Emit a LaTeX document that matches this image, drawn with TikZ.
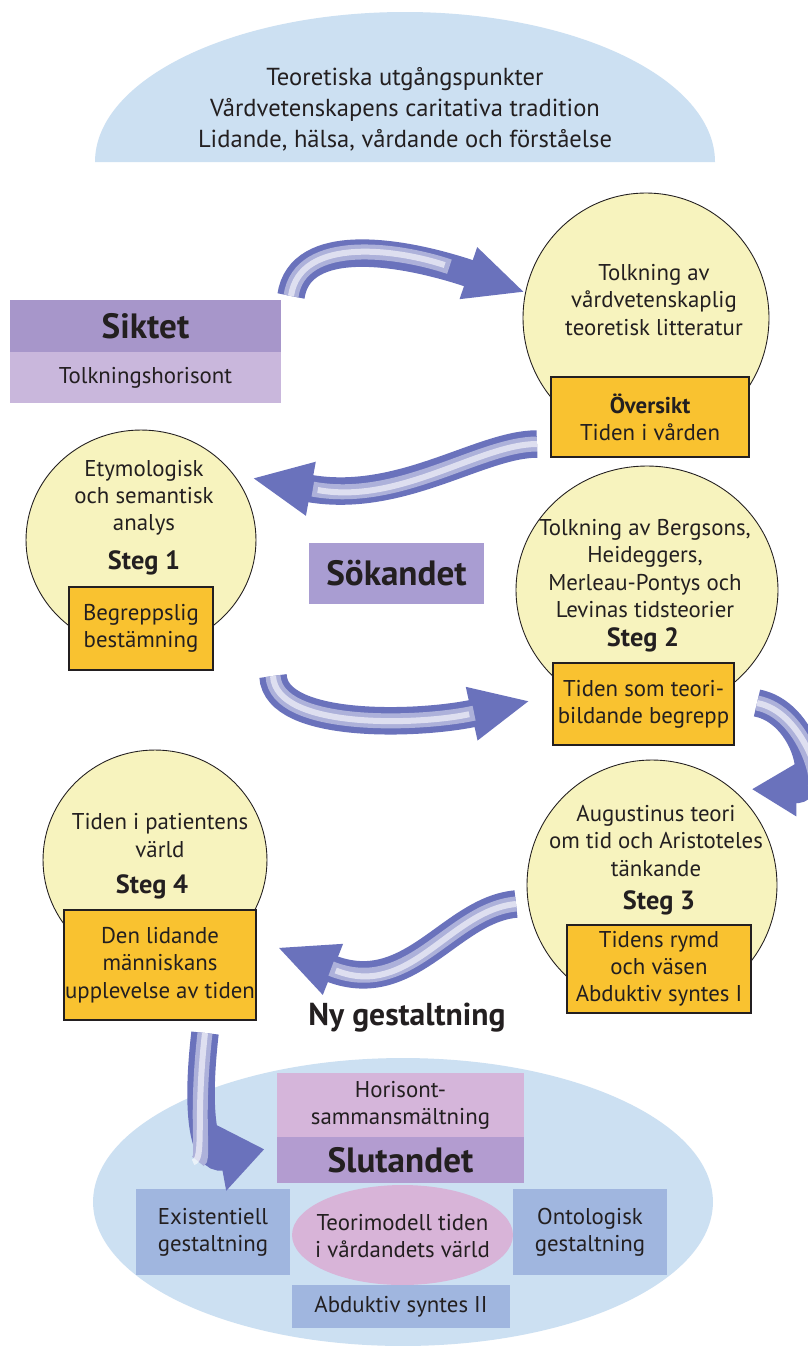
\documentclass[tikz,border=0pt]{standalone}
\usepackage{fontspec}
\setmainfont{PT Sans}
\usepackage{tikz}
\usetikzlibrary{shapes.geometric,arrows.meta}
\definecolor{skyblue}{HTML}{CCE0F2}
\definecolor{paleyellow}{HTML}{F7F3BE}
\definecolor{amber}{HTML}{F9C230}
\definecolor{darklilac}{HTML}{A796CA}
\definecolor{lightlilac}{HTML}{C9B7DC}
\definecolor{searchlilac}{HTML}{A99DD2}
\definecolor{mauve}{HTML}{D5B5DA}
\definecolor{midlilac}{HTML}{B39CD0}
\definecolor{greyblue}{HTML}{A0B6DF}
\definecolor{pinkmauve}{HTML}{D8B4D8}
\definecolor{ribbon}{HTML}{6A72BC}
\definecolor{ink}{HTML}{231F20}
\newcommand{\hd}[1]{{\fontsize{20}{22}\selectfont\bfseries #1}}
\newcommand{\stg}[1]{{\fontsize{15}{17}\selectfont\bfseries #1}}

\begin{document}
\begin{tikzpicture}[x=0.02cm, y=-0.02cm, >={Triangle[length=1.2cm,width=1.0cm]},
    every node/.style={text=ink, font=\fontsize{13}{15.5}\selectfont, align=center, inner sep=0pt},
    bubble/.style={ellipse, draw=ink, line width=0.5pt, fill=paleyellow},
    result/.style={rectangle, draw=ink, line width=0.9pt, fill=amber},
    band/.style={rectangle, minimum width=5.42cm},
    flow/.style={->, draw=ribbon, line width=0.55cm,
        postaction={draw=ribbon!55!white, -, line width=0.3cm, shorten >=1.6cm},
        postaction={draw=white, -, opacity=0.6, line width=0.12cm, shorten >=1.7cm}}]
    \path[use as bounding box, fill=white] (0,0) rectangle (808,1346);

    % Theoretical starting points
    \fill[skyblue] (95,162) arc[start angle=180, end angle=360, x radius=310, y radius=150] -- cycle;
    \node[font=\fontsize{14}{17.6}\selectfont] (theory) at (405,109) {Teoretiska utgångspunkter\\Vårdvetenskapens caritativa tradition\\Lidande, hälsa, vårdande och förståelse};

    % Siktet
    \node[band, minimum height=1.04cm, fill=darklilac] (siktet) at (145.5,326) {\hd{Siktet}};
    \node[band, minimum height=1.02cm, fill=lightlilac] (horizon) at (145.5,377.5) {Tolkningshorisont};

    % Overview circle
    \node[bubble, minimum width=4.92cm, minimum height=5cm] (c0) at (646,318) {};
    \node (c0t) at (654,300) {Tolkning av\\vårdvetenskaplig\\teoretisk litteratur};
    \node[result, minimum width=3.96cm, minimum height=1.6cm] (ov) at (650,417) {\textbf{Översikt}\\Tiden i vården};

    % Steg 1
    \node[bubble, minimum width=4.6cm, minimum height=4.4cm] (s1) at (141,540) {};
    \node (s1t) at (144,498) {Etymologisk\\och semantisk\\analys};
    \node[result, minimum width=2.88cm, minimum height=1.66cm] (r1) at (141,628.5) {Begreppslig\\bestämning};

    % Sökandet
    \node[minimum width=3.5cm, minimum height=1.22cm, fill=searchlilac] (search) at (396.5,573.5) {\hd{Sökandet}};

    % Steg 2
    \node[bubble, minimum width=5.24cm, minimum height=4.96cm] (s2) at (647,590) {};
    \node (s2t) at (645,568.5) {Tolkning av Bergsons,\\Heideggers,\\Merleau-Pontys och\\Levinas tidsteorier};
    \node[result, minimum width=3.62cm, minimum height=1.64cm] (r2) at (643.5,704) {Tiden som teori-\\bildande begrepp};

    % Steg 4
    \node[bubble, minimum width=4.48cm, minimum height=4.4cm] (s4) at (155,860) {};
    \node (s4t) at (160,835.5) {Tiden i patientens\\värld};
    \node[result, minimum width=3.84cm, minimum height=2.2cm] (r4) at (160,965) {Den lidande\\människans\\upplevelse av tiden};

    % Steg 3
    \node[bubble, minimum width=5cm, minimum height=5cm] (s3) at (652,885) {};
    \node (s3t) at (656,841) {Augustinus teori\\om tid och Aristoteles\\tänkande};
    \node[result, minimum width=3.68cm, minimum height=1.76cm] (r3) at (659,969) {Tidens rymd\\och väsen\\Abduktiv syntes I};

    % Step labels
    \foreach \n/\x/\y in {1/144/563, 2/643/640, 3/659/903, 4/152/887}
        \node (st\n) at (\x,\y) {\stg{Steg \n}};

    % New shaping
    \node[font=\fontsize{18}{20}\selectfont\bfseries] (ny) at (407,1018) {Ny gestaltning};

    % Slutandet
    \node[ellipse, fill=skyblue, minimum width=12.4cm, minimum height=5.76cm] (bot) at (403,1202) {};
    \node[minimum width=4.94cm, minimum height=1.28cm, fill=mauve] (hor) at (400.5,1105) {Horisont-\\sammansmältning};
    \node[minimum width=4.94cm, minimum height=0.92cm, fill=midlilac] (slut) at (400.5,1160) {\hd{Slutandet}};
    \node[minimum width=3.08cm, minimum height=1.72cm, fill=greyblue] (ex) at (213,1232) {Existentiell\\gestaltning};
    \node[minimum width=3.08cm, minimum height=1.72cm, fill=greyblue] (onto) at (590,1232) {Ontologisk\\gestaltning};
    \node[ellipse, minimum width=4.42cm, minimum height=2cm, fill=pinkmauve] (model) at (402.5,1235) {};
    \node (modelt) at (402.5,1236) {Teorimodell tiden\\i vårdandets värld};
    \node[minimum width=4.36cm, minimum height=0.86cm, fill=greyblue] (abd) at (401,1306.5) {Abduktiv syntes II};

    % Curved arrows
    \coordinate (a1) at (291,296);
    \coordinate (a2) at (537,444);
    \coordinate (a3) at (273,676);
    \coordinate (a4) at (757,703);
    \coordinate (a5) at (516,904);
    \coordinate (a6) at (205,1033);
    \draw[flow] (a1) .. controls (300,235) and (400,250) .. (c0.168);
    \draw[flow, shorten >=0.36cm] (a2) .. controls (480,444) and (400,505) .. (s1.35);
    \draw[flow, shorten >=0.45cm] (a3) .. controls (276,730) and (420,725) .. (r2.175);
    \draw[flow, -{Triangle[length=0.9cm,width=1.0cm]}, shorten >=0.38cm] (a4) .. controls (805,712) and (825,790) .. (s3.50);
    \draw[flow, shorten >=0.44cm] (a5) .. controls (450,910) and (410,1000) .. (r4.15);
    \draw[flow, -{Triangle[length=0.9cm,width=1.3cm]}, shorten >=0.25cm] (a6) .. controls (195,1120) and (205,1160) .. ([yshift=0.26cm]slut.west);
\end{tikzpicture}
\end{document}
